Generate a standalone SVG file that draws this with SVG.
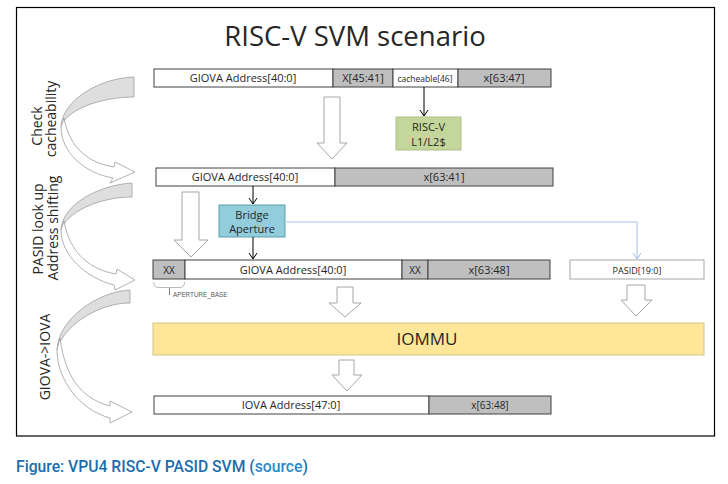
<svg xmlns="http://www.w3.org/2000/svg" width="728" height="484" viewBox="0 0 728 484">
<defs>
<style>
.t{font-family:"Open Sans","Liberation Sans",sans-serif;fill:#262626;text-anchor:middle}
.bar{fill:#fff;stroke:#404040;stroke-width:1}
.g{fill:#BFBFBF;stroke:#404040;stroke-width:1}
.hollow{fill:#fff;stroke:#A6A6A6;stroke-width:1}
.cres{fill:#DEDEDE;stroke:#9E9E9E;stroke-width:0.8}
.cbody{fill:#fff;stroke:#9E9E9E;stroke-width:0.8}
.lbl{font-family:"Open Sans","Liberation Sans",sans-serif;fill:#262626;text-anchor:middle;font-size:14px}
</style>
<marker id="ah" markerWidth="10" markerHeight="10" refX="8" refY="5" orient="auto" markerUnits="userSpaceOnUse">
<path d="M2,1 L8,5 L2,9" fill="none" stroke="#000" stroke-width="1"/>
</marker>
<marker id="ahb" markerWidth="10" markerHeight="10" refX="8" refY="5" orient="auto" markerUnits="userSpaceOnUse">
<path d="M2,1 L8,5 L2,9" fill="none" stroke="#9DB9E4" stroke-width="1"/>
</marker>
</defs>
<rect x="0" y="0" width="728" height="484" fill="#fff"/>
<rect x="16.5" y="7.5" width="698" height="428.5" fill="#fff" stroke="#000" stroke-width="1.2"/>
<text x="355" y="46" class="t" font-size="27.5">RISC-V SVM scenario</text>

<g id="labels">
<text class="lbl" transform="translate(42,126) rotate(-90)">Check</text>
<text class="lbl" transform="translate(56,119) rotate(-90)">cacheability</text>
<text class="lbl" font-size="15" transform="translate(43,229) rotate(-90)">PASID look up</text>
<text class="lbl" font-size="15" transform="translate(58,228) rotate(-90)">Address shifting</text>
<text class="lbl" font-size="15" transform="translate(50,357) rotate(-90)">GIOVA-&gt;IOVA</text>
</g>

<g id="curved-arrows">
<path class="cres" d="M134,77 C100,78 62,100 61,127 C66,110 100,97 134,97 Z"/>
<path class="cbody" d="M61,127 C61,152 84,173 113,178 L110,183 L135,172 L115,162 L114,167 C90,163 70,150 64,118 Z"/>
<path class="cres" d="M132,183 C98,185 62,205 61,230 C66,213 98,197 132,197 Z"/>
<path class="cbody" d="M61,230 C61,255 86,278 114,285 L115,290 L135,280 L117,269 L116,274 C92,270 70,255 64,221 Z"/>
<path class="cres" d="M130,290 C96,292 58,320 57,350 C62,328 96,303 130,303 Z"/>
<path class="cbody" d="M57,350 C57,380 80,410 110,418 L110,423 L132,412 L110,401 L110,406 C88,400 66,385 60,338 Z"/>
</g>

<g id="row1">
<rect class="bar" x="154" y="69" width="179" height="18"/>
<rect class="g" x="333" y="69" width="60" height="18"/>
<rect class="bar" x="393" y="69" width="65" height="18"/>
<rect class="g" x="458" y="69" width="93" height="18"/>
<text class="t" x="243" y="82" font-size="11">GIOVA Address[40:0]</text>
<text class="t" x="363" y="82" font-size="11">X[45:41]</text>
<text class="t" x="425" y="81.5" font-size="8.5">cacheable[46]</text>
<text class="t" x="504" y="82" font-size="11">x[63:47]</text>
</g>

<g id="riscv-cache">
<rect x="396" y="117" width="65" height="33" fill="#C4D79B" stroke="#AEBD8A" stroke-width="1"/>
<text class="t" x="428.5" y="131" font-size="11">RISC-V</text>
<text class="t" x="428.5" y="146" font-size="11">L1/L2$</text>
</g>

<g id="row2">
<rect class="bar" x="156" y="168" width="179" height="18"/>
<rect class="g" x="335" y="168" width="218" height="18"/>
<text class="t" x="245" y="181" font-size="11">GIOVA Address[40:0]</text>
<text class="t" x="444" y="181" font-size="11">x[63:41]</text>
</g>

<g id="bridge-aperture">
<rect x="219" y="205" width="66" height="32" fill="#92CDDC" stroke="#5E9FB0" stroke-width="1"/>
<text class="t" x="252" y="219" font-size="11">Bridge</text>
<text class="t" x="252" y="233" font-size="11">Aperture</text>
</g>

<g id="row3">
<rect class="g" x="153" y="260" width="32" height="19"/>
<rect class="bar" x="185" y="260" width="217" height="19"/>
<rect class="g" x="402" y="260" width="26" height="19"/>
<rect class="g" x="428" y="260" width="122" height="19"/>
<text class="t" x="169" y="274" font-size="10">XX</text>
<text class="t" x="293" y="274" font-size="11">GIOVA Address[40:0]</text>
<text class="t" x="415" y="274" font-size="10">XX</text>
<text class="t" x="489" y="274" font-size="11">x[63:48]</text>
<path d="M153.5,282 Q154,287.5 158,287.5 L180,287.5 Q184.5,287.5 184.5,282" fill="none" stroke="#A6A6A6" stroke-width="0.8"/>
<line x1="169.5" y1="288" x2="169.5" y2="295" stroke="#595959" stroke-width="0.8"/>
<text x="173" y="297" font-family="Liberation Sans,Arial,sans-serif" font-size="6.3" fill="#595959">APERTURE_BASE</text>
</g>

<g id="pasid">
<rect x="570" y="260" width="134" height="19" fill="#fff" stroke="#A6A6A6" stroke-width="1"/>
<text class="t" x="637" y="273.5" font-size="9">PASID[19:0]</text>
</g>

<g id="iommu">
<rect x="153" y="323" width="551" height="32" fill="#FFE699" stroke="#D4C48C" stroke-width="1"/>
<text class="t" x="427" y="345" font-size="17">IOMMU</text>
</g>

<g id="row4">
<rect class="bar" x="154" y="396" width="275" height="18"/>
<rect class="g" x="429" y="396" width="122" height="18"/>
<text class="t" x="291" y="409" font-size="11">IOVA Address[47:0]</text>
<text class="t" x="490" y="409" font-size="10">x[63:48]</text>
</g>

<g id="connectors">
<path class="hollow" d="M324,97 L340,97 L340,143 L347,143 L332,159 L317,143 L324,143 Z"/>
<path class="hollow" d="M182,192 L199,192 L199,240 L208,240 L191,257 L174,240 L182,240 Z"/>
<path class="hollow" d="M337,287 L353,287 L353,303 L361,303 L345,317 L329,303 L337,303 Z"/>
<path class="hollow" d="M627,285 L645,285 L645,300 L652,300 L636,316 L621,300 L627,300 Z"/>
<path class="hollow" d="M339,360 L354,360 L354,375 L362,375 L347,391 L332,375 L339,375 Z"/>
<line x1="424" y1="87" x2="424" y2="116" stroke="#000" stroke-width="1" marker-end="url(#ah)"/>
<line x1="253" y1="186" x2="253" y2="204" stroke="#000" stroke-width="1" marker-end="url(#ah)"/>
<line x1="253" y1="237" x2="253" y2="259" stroke="#000" stroke-width="1" marker-end="url(#ah)"/>
<path d="M285,222 L637,222 L637,259" fill="none" stroke="#C5D5EE" stroke-width="1.5" marker-end="url(#ahb)"/>
</g>

<text x="16" y="472" font-family="Roboto,'Liberation Sans',sans-serif" font-weight="500" font-size="15.7" fill="#1B6DAE">Figure: VPU4 RISC-V PASID SVM (<tspan fill="#2C87C9">source</tspan>)</text>
</svg>
